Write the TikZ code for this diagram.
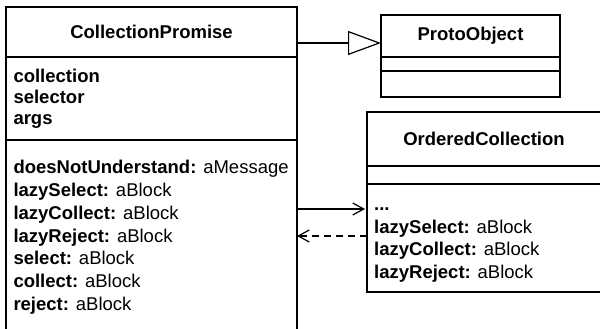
\documentclass[tikz,border=0pt]{standalone}
\usepackage{fontspec}
\setmainfont{Liberation Sans}
\usetikzlibrary{arrows.meta}
\begin{document}
\begin{tikzpicture}[x=1pt,y=-1pt,
  classbox/.style={draw, line width=1.3pt, rectangle, inner sep=0pt, outer sep=0pt, anchor=north west},
  divider/.style={line width=1.3pt},
  title/.style={font=\fontsize{18.5}{22}\selectfont\bfseries, anchor=base, inner sep=0pt},
  member/.style={font=\fontsize{18.5}{22}\selectfont, anchor=base west, inner sep=0pt},
  conn/.style={line width=1.2pt},
  inherit/.style={conn, -{Triangle[open, length=33pt, width=24pt, line width=1.2pt]}},
  assoc/.style={conn, -{Straight Barb[length=11pt, width=12pt, line width=1.2pt]}},
  dep/.style={assoc, dash pattern=on 7pt off 5pt},
]
\useasboundingbox (0,0) rectangle (600,329);
\clip (0,0) rectangle (600,329);

% CollectionPromise
\node[classbox, minimum width=291pt, minimum height=340pt] (cp) at (6,7) {};
\draw[divider] (cp.west |- 0,57) -- (cp.east |- 0,57);
\draw[divider] (cp.west |- 0,140) -- (cp.east |- 0,140);
\node[title] (cpt) at (151.5,38.3) {CollectionPromise};
\node[member] (cpa1) at (13.3,82.3) {\bfseries collection};
\node[member] (cpa2) at (13.3,103.3) {\bfseries selector};
\node[member] (cpa3) at (13.3,124.3) {\bfseries args};
\node[member] (cpm1) at (13.3,173.3) {\textbf{doesNotUnderstand:} aMessage};
\node[member] (cpm2) at (13.3,196.2) {\textbf{lazySelect:} aBlock};
\node[member] (cpm3) at (13.3,219.1) {\textbf{lazyCollect:} aBlock};
\node[member] (cpm4) at (13.3,242.0) {\textbf{lazyReject:} aBlock};
\node[member] (cpm5) at (13.3,264.9) {\textbf{select:} aBlock};
\node[member] (cpm6) at (13.3,287.8) {\textbf{collect:} aBlock};
\node[member] (cpm7) at (13.3,310.7) {\textbf{reject:} aBlock};

% ProtoObject
\node[classbox, minimum width=179pt, minimum height=82pt] (po) at (381,15) {};
\draw[divider] (po.west |- 0,57) -- (po.east |- 0,57);
\draw[divider] (po.west |- 0,71) -- (po.east |- 0,71);
\node[title] (pot) at (470.5,41) {ProtoObject};

% OrderedCollection
\node[classbox, minimum width=240pt, minimum height=180pt] (oc) at (367,112) {};
\draw[divider] (oc.west |- 0,166) -- (oc.east |- 0,166);
\draw[divider] (oc.west |- 0,184) -- (oc.east |- 0,184);
\node[title] (oct) at (484,145) {OrderedCollection};
\node[member] (ocm0) at (374,210.7) {\bfseries ...};
\node[member] (ocm1) at (374,233.2) {\textbf{lazySelect:} aBlock};
\node[member] (ocm2) at (374,255.7) {\textbf{lazyCollect:} aBlock};
\node[member] (ocm3) at (374,278.2) {\textbf{lazyReject:} aBlock};

% connectors
\draw[inherit] (cp.east |- 0,43) -- (po.west |- 0,43);
\draw[assoc] (cp.east |- 0,209) -- ([xshift=-2pt]oc.west |- 0,209);
\draw[dep] (oc.west |- 0,236) -- (cp.east |- 0,236);
\end{tikzpicture}
\end{document}
